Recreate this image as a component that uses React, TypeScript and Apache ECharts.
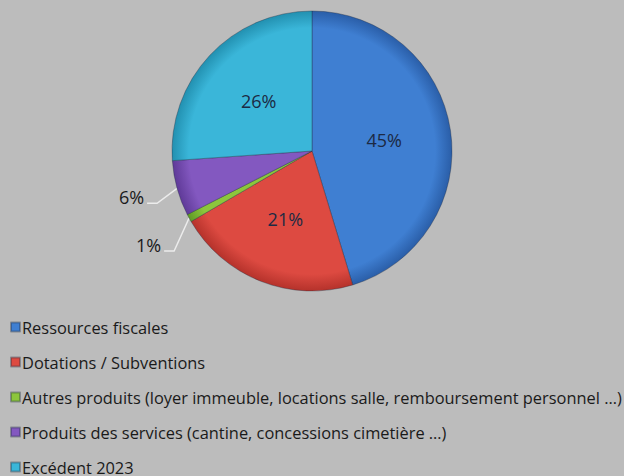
import React, { useEffect, useRef } from "react";
import * as echarts from "echarts";

const categories = [
  "Ressources fiscales",
  "Dotations / Subventions",
  "Autres produits (loyer immeuble, locations salle, remboursement personnel …)",
  "Produits des services (cantine, concessions cimetière …)",
  "Excédent 2023",
];
const values = [45.3, 21.3, 0.9, 6.4, 26.1];
const colors = ["#3f7fd2", "#dd4a41", "#8cc63c", "#8358c0", "#3ab6d9"];
const darkColors = ["#2a5ea8", "#b5322b", "#5f9a25", "#5f3a98", "#2290b0"];
const outsideLabel = [false, false, true, true, false];
// leader-line elbow offsets (relative to the slice edge anchor)
const elbowOffsets: Record<number, [number, number]> = { 2: [-15, 33], 3: [-20, 15] };

export default function App() {
  const ref = useRef<HTMLDivElement>(null);
  useEffect(() => {
    document.body.style.margin = "0";
    if (!ref.current) return;
    const chart = echarts.init(ref.current, undefined, { renderer: "svg" });
    const cx = 312;
    const cy = 151;
    const r = 140;
    const data = values.map((v, i) => ({
      name: categories[i],
      value: v,
      itemStyle: {
        color: {
          type: "radial",
          x: cx,
          y: cy,
          r: r,
          global: true,
          colorStops: [
            { offset: 0, color: colors[i] },
            { offset: 0.88, color: colors[i] },
            { offset: 1, color: darkColors[i] },
          ],
        },
      },
      label: outsideLabel[i]
        ? { position: "outside", color: "#1a1a1a" }
        : { position: "inside", color: "#1c2a44" },
      labelLine: { show: outsideLabel[i] },
    }));
    chart.setOption({
      animation: false,
      backgroundColor: "#bcbcbc",
      legend: {
        orient: "vertical",
        left: 10,
        top: 319,
        height: 200,
        padding: 0,
        itemWidth: 9,
        itemHeight: 9,
        itemGap: 19,
        icon: "rect",
        textStyle: {
          fontFamily: "Open Sans",
          fontSize: 16.4,
          lineHeight: 16,
          color: "#1a1a1a",
          padding: [0, 0, 0, -3],
        },
        data: categories.map((c, i) => ({ name: c, itemStyle: { color: colors[i] } })),
      },
      series: [
        {
          type: "pie",
          center: [cx, cy],
          radius: [0, r],
          startAngle: 90,
          clockwise: true,
          avoidLabelOverlap: false,
          data,
          itemStyle: { borderColor: "rgba(30,40,60,0.35)", borderWidth: 1 },
          label: {
            show: true,
            fontFamily: "Open Sans",
            fontSize: 18,
            formatter: (p: any) => Math.round(p.percent) + "%",
          },
          labelLine: {
            length: 22,
            length2: 10,
            lineStyle: { color: "#ececec", width: 1.5 },
          },
          labelLayout: (p: any) => {
            const off = elbowOffsets[p.dataIndex];
            if (!off || !p.labelLinePoints) return {};
            const s = p.labelLinePoints[0];
            const elbow = [s[0] + off[0], s[1] + off[1]];
            const end = [elbow[0] - 10, elbow[1]];
            return {
              x: end[0] - 3,
              y: end[1] - 6,
              align: "right",
              verticalAlign: "middle",
              labelLinePoints: [s, elbow, end],
            };
          },
        },
      ],
    });
    return () => chart.dispose();
  }, []);
  return <div ref={ref} style={{ width: 624, height: 476 }} />;
}
